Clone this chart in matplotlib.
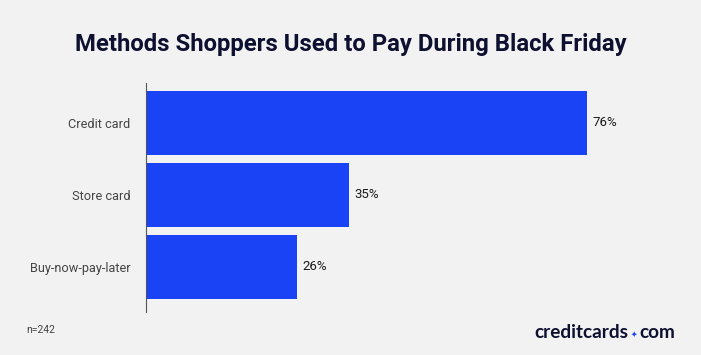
import matplotlib.pyplot as plt

# data
methods = ["Credit card", "Store card", "Buy-now-pay-later"]
shares = [76, 35, 26]
value_labels = ["76%", "35%", "26%"]
title = "Methods Shoppers Used to Pay During Black Friday"
sample_note = "n=242"

BG = "#f2f2f3"
BAR = "#1943f5"
NAVY = "#0e1030"

fig = plt.figure(figsize=(7.01, 3.55), dpi=100, facecolor=BG)
# axes placed in pixel terms: left spine at x=146, top 83, bottom 312
W, H = 701, 355
ax = fig.add_axes([146 / W, 1 - 312 / H, (690 - 146) / W, (312 - 83) / H])
ax.set_facecolor(BG)

ypos = range(len(methods))
ax.barh(ypos, shares, height=0.89, color=BAR, edgecolor="none")
ax.set_ylim(2.625, -0.555)
ax.set_xlim(0, 544 / 5.8)

for y, v, lab in zip(ypos, shares, value_labels):
    ax.text(v + 1.0, y, lab, va="center", ha="left", fontsize=9.5,
            family="Roboto", color="#1a1a1a")

ax.set_yticks(list(ypos))
ax.set_yticklabels(methods, family="Roboto", fontsize=9.2, color="#454545")
ax.tick_params(axis="y", length=0, pad=11)
ax.set_xticks([])
for s in ["top", "right", "bottom"]:
    ax.spines[s].set_visible(False)
ax.spines["left"].set_color("#555555")
ax.spines["left"].set_linewidth(0.8)

fig.text(0.5, 1 - 45 / H, title, ha="center", va="center", fontsize=17.2,
         fontweight="bold", family="Roboto", color=NAVY)
fig.text(26 / W, 1 - 330 / H, sample_note, ha="left", va="center",
         fontsize=7.5, family="Roboto", color="#444444")

# logo text
fig.text(628 / W, 1 - 333 / H, "creditcards", ha="right", va="center",
         fontsize=13.7, fontweight="bold", family="Lato", color=NAVY)
fig.text(633.5 / W, 1 - 334 / H, "\u2726", ha="center", va="center",
         fontsize=5.5, family="DejaVu Sans", color=BAR)
fig.text(639 / W, 1 - 333 / H, "com", ha="left", va="center",
         fontsize=13.7, fontweight="bold", family="Lato", color=NAVY)

fig.savefig("out.png", dpi=100, facecolor=BG)
